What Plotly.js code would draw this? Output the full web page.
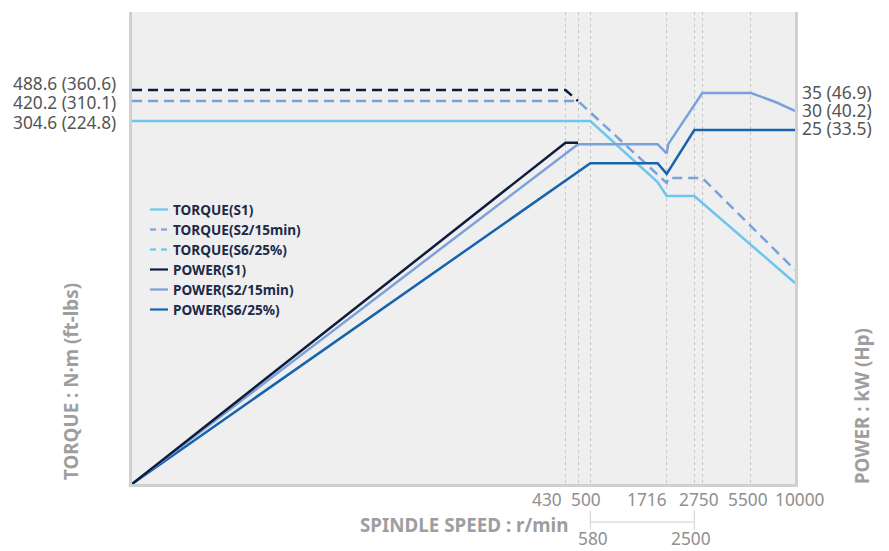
<!DOCTYPE html>
<html>
<head>
<meta charset="utf-8">
<script src="https://cdn.plot.ly/plotly-3.0.1.min.js"></script>
<style>html,body{margin:0;padding:0;background:#fff}#chart{width:889px;height:551px}</style>
</head>
<body>
<div id="chart"></div>
<script>
// ---- data ----
// speed breakpoints of the (non-linear, schematic) speed axis
const speedTicks = [0, 430, 500, 580, 1716, 2500, 2750, 5500, 10000];
const speedTickLabels = ["0", "430", "500", "580", "1716", "2500", "2750", "5500", "10000"];
// torque levels printed on the left, N·m and ft-lbs
const torqueLevels = [304.6, 420.2, 488.6];
const torqueLevelLabels = ["304.6 (224.8)", "420.2 (310.1)", "488.6 (360.6)"];
// power levels printed on the right, kW and Hp
const powerLevels = [25, 30, 35];
const powerLevelLabels = ["25 (33.5)", "30 (40.2)", "35 (46.9)"];

// torque curves
const torqueHiSpeed = [0, 430, 500];
const torqueHi      = [488.6, 488.6, 420.2];
const torqueS2Speed = [0, 500, 1716, 1760, 2750, 10000];
const torqueS2      = [420.2, 420.2, 252.6, 256.8, 256.8, 179.6];
const torqueS1Speed = [0, 580, 1580, 1716, 2500, 10000];
const torqueS1      = [304.6, 304.6, 253.4, 241.7, 241.7, 168.7];

// power curves
const powerHiSpeed  = [0, 430, 500];
const powerHi       = [0, 24.1, 24.1];
const powerS2Speed  = [0, 500, 1580, 1716, 1760, 2750, 5500, 8000, 10000];
const powerS2       = [0, 24.0, 24.0, 23.35, 24.0, 35, 35, 32.5, 30];
const powerS1Speed  = [0, 580, 1580, 1716, 2500, 10000];
const powerS1       = [0, 22.65, 22.65, 21.9, 25, 25];

const legendNames = ["TORQUE(S1)", "TORQUE(S2/15min)", "TORQUE(S6/25%)", "POWER(S1)", "POWER(S2/15min)", "POWER(S6/25%)"];

// ---- schematic scales (layout) ----
const speedPos  = [0, 0.6538, 0.6727, 0.6913, 0.8065, 0.8481, 0.8602, 0.9336, 1];
const torqueKnots = [0, 304.6, 420.2, 488.6];
const torquePos   = [0, 0.7691, 0.8114, 0.8347];
const powerKnots  = [0, 25, 30, 35];
const powerPos    = [0, 0.75, 0.7903, 0.8284];

function interp(v, xs, ys) {
  for (let i = 1; i < xs.length; i++) {
    if (v <= xs[i]) {
      const t = (v - xs[i-1]) / (xs[i] - xs[i-1]);
      return ys[i-1] + t * (ys[i] - ys[i-1]);
    }
  }
  const n = xs.length;
  return ys[n-1] + (v - xs[n-1]) * (ys[n-1] - ys[n-2]) / (xs[n-1] - xs[n-2]);
}
const X = s => interp(s, speedTicks, speedPos);
const TY = t => interp(t, torqueKnots, torquePos);
const PY = p => interp(p, powerKnots, powerPos);

const C_LIGHT = "#6cc6f0", C_MED = "#7ba1da", C_NAVY = "#0e1c3e", C_DARK = "#1763ae";

function tr(sp, vals, fy, color, dash, axis) {
  return {
    type: "scatter", mode: "lines",
    x: sp.map(X), y: vals.map(fy), yaxis: axis,
    line: {color: color, width: 2.5, dash: dash},
    showlegend: false, hoverinfo: "skip"
  };
}

const traces = [
  tr(torqueS1Speed, torqueS1, TY, C_LIGHT, "solid", "y"),
  tr(torqueS2Speed, torqueS2, TY, C_MED, "10px,6px", "y"),
  tr(torqueHiSpeed, torqueHi, TY, C_NAVY, "10px,6px", "y"),
  tr(powerS1Speed, powerS1, PY, C_DARK, "solid", "y2"),
  tr(powerS2Speed, powerS2, PY, C_MED, "solid", "y2"),
  tr(powerHiSpeed, powerHi, PY, C_NAVY, "solid", "y2")
];

const FONT = "Noto Sans, Open Sans, sans-serif";
const annotations = [];
const shapes = [];

// left torque labels
const leftY = [0.7669, 0.8093, 0.8475];
torqueLevelLabels.forEach((t, i) => annotations.push({
  xref: "paper", yref: "paper", x: -0.0226, y: leftY[i], xanchor: "right", yanchor: "middle", borderpad: 0,
  text: t, showarrow: false, font: {family: FONT, size: 17.3, color: "#555"}
}));
// right power labels
const rightY = [0.7542, 0.7924, 0.8305];
powerLevelLabels.forEach((t, i) => annotations.push({
  xref: "paper", yref: "paper", x: 1.009, y: rightY[i], xanchor: "left", yanchor: "middle", borderpad: 0,
  text: t, showarrow: false, font: {family: FONT, size: 17.5, color: "#555"}
}));

// x tick labels
const tickFont = {family: FONT, size: 17.3, color: "#8f8f8f"};
const tickSpec = [
  [1, "right", -2, -0.0318], [2, "left", -8, -0.0318], [4, "right", 1, -0.0318],
  [6, "center", -3, -0.0318], [7, "center", -3, -0.0318], [8, "center", 5, -0.0318],
  [3, "center", 3, -0.1165], [5, "center", -3, -0.1165]
];
tickSpec.forEach(([i, anc, sh, yy]) => annotations.push({
  xref: "x", yref: "paper", x: X(speedTicks[i]), y: yy, xanchor: anc, yanchor: "middle", xshift: sh, borderpad: 0,
  text: speedTickLabels[i], showarrow: false, font: tickFont
}));
// bracket 580 - 2500
const bc = "#cfcfcf";
shapes.push({type: "line", xref: "x", yref: "paper", x0: X(580), x1: X(2500), y0: -0.0805, y1: -0.0805, line: {color: bc, width: 1}});
shapes.push({type: "line", xref: "x", yref: "paper", x0: X(580), x1: X(580), y0: -0.0561, y1: -0.0964, line: {color: bc, width: 1}});
shapes.push({type: "line", xref: "x", yref: "paper", x0: X(2500), x1: X(2500), y0: -0.0561, y1: -0.0964, line: {color: bc, width: 1}});

// axis titles
const titleFont = {family: FONT, size: 18.8, color: "#9e9e9e"};
annotations.push({xref: "paper", yref: "paper", x: 0.5, y: -0.0869, xanchor: "center", yanchor: "middle",
  text: "<b>SPINDLE SPEED : r/min</b>", showarrow: false, font: titleFont});
annotations.push({xref: "paper", yref: "paper", x: -0.092, y: 0.216, xanchor: "center", yanchor: "middle", textangle: -90,
  text: "<b>TORQUE : N·m (ft-lbs)</b>", showarrow: false, font: titleFont});
annotations.push({xref: "paper", yref: "paper", x: 1.101, y: 0.165, xanchor: "center", yanchor: "middle", textangle: -90,
  text: "<b>POWER : kW (Hp)</b>", showarrow: false, font: titleFont});

// custom legend
const legColors = [C_LIGHT, C_MED, C_LIGHT, C_NAVY, C_MED, C_DARK];
const legDash = ["solid", "dash", "dash", "solid", "solid", "solid"];
legendNames.forEach((name, i) => {
  const ypx = 209.5 + i * 20;
  const yp = (484 - ypx) / 472;
  const x0 = (150 - 132) / 663, x1 = (168 - 132) / 663;
  if (legDash[i] === "dash") {
    shapes.push({type: "line", xref: "paper", yref: "paper", x0: x0, x1: (156 - 132) / 663, y0: yp, y1: yp, line: {color: legColors[i], width: 2.2}});
    shapes.push({type: "line", xref: "paper", yref: "paper", x0: (161 - 132) / 663, x1: (167 - 132) / 663, y0: yp, y1: yp, line: {color: legColors[i], width: 2.2}});
  } else {
    shapes.push({type: "line", xref: "paper", yref: "paper", x0: x0, x1: x1, y0: yp, y1: yp, line: {color: legColors[i], width: 2.2}});
  }
  annotations.push({xref: "paper", yref: "paper", x: (171 - 132) / 663, y: yp, xanchor: "left", yanchor: "middle",
    text: "<b>" + name + "</b>", showarrow: false, font: {family: FONT, size: 13.6, color: "#1c2a4a"}});
});

const layout = {
  width: 889, height: 551,
  margin: {l: 132, r: 94, t: 12, b: 67, pad: 0},
  paper_bgcolor: "#ffffff", plot_bgcolor: "#efefef",
  showlegend: false,
  xaxis: {
    range: [0, 1], fixedrange: true,
    tickvals: [430, 500, 580, 1716, 2500, 2750, 5500].map(X),
    showticklabels: false, ticks: "",
    showgrid: true, gridcolor: "#c6c6c6", gridwidth: 1, griddash: "dot",
    zeroline: false, showline: true, linecolor: "#d0d0d0", linewidth: 3
  },
  yaxis: {
    range: [0, 1], fixedrange: true, showticklabels: false, ticks: "",
    showgrid: false, zeroline: false, showline: true, linecolor: "#d0d0d0", linewidth: 3
  },
  yaxis2: {
    range: [0, 1], overlaying: "y", side: "right", fixedrange: true, showticklabels: false, ticks: "",
    showgrid: false, zeroline: false, showline: true, linecolor: "#d0d0d0", linewidth: 3
  },
  annotations: annotations,
  shapes: shapes
};

Plotly.newPlot("chart", traces, layout, {staticPlot: true, displayModeBar: false});
</script>
</body>
</html>
